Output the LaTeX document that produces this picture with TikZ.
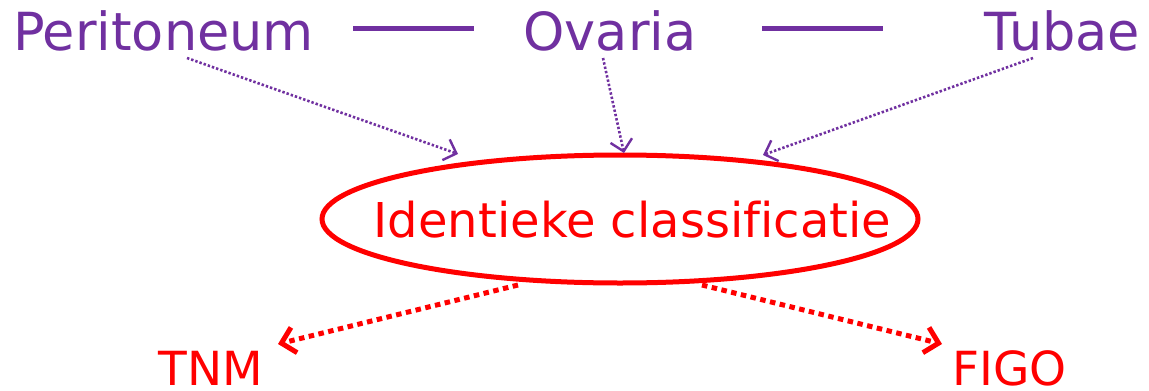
\documentclass[tikz,border=0pt]{standalone}
\usepackage{fontspec}
\setmainfont{DejaVu Sans}[Ligatures=NoCommon]
\usetikzlibrary{shapes.geometric,arrows.meta}
\definecolor{vio}{HTML}{7030A0}
\definecolor{rd}{HTML}{FF0000}
\begin{document}
\begin{tikzpicture}[x=1pt,y=-1pt,
  toplbl/.style={text=vio, inner sep=0pt, anchor=base, font=\fontsize{52.5}{62}\selectfont},
  botlbl/.style={text=rd, inner sep=0pt, anchor=base, text depth=0pt, font=\fontsize{47}{56}\selectfont},
  link/.style={draw=vio, line width=5pt},
  feed/.style={draw=vio, line width=2.6pt, dash pattern=on 2.4pt off 2pt,
    -{Straight Barb[length=11pt,width=22pt,line width=2.4pt]}},
  spread/.style={draw=rd, line width=5pt, dash pattern=on 5.5pt off 4.5pt,
    -{Straight Barb[length=13pt,width=26pt,line width=5pt]}}
]
\useasboundingbox (0,0) rectangle (1149,391);

% organ labels
\node[toplbl] (peri) at (163.5,50) {Peritoneum};
\node[toplbl] (ova)  at (610,50)   {Ovaria};
\node[toplbl] (tub)  at (1062.5,50) {Tubae};

% linking bars between the organs
\coordinate (b1s) at (353,28);
\coordinate (b1e) at (474,28);
\coordinate (b2s) at (762,28);
\coordinate (b2e) at (883,28);
\draw[link] (b1s) -- (b1e);
\draw[link] (b2s) -- (b2e);

% shared classification
\node[draw=rd, line width=5pt, ellipse, minimum width=596pt, minimum height=128pt,
      inner sep=0pt] (cls) at (620,219) {};
\node[inner sep=0pt, anchor=base, text=rd, font=\fontsize{48}{57}\selectfont]
      (clslbl) at (632.5,237) {Identieke classificatie};

% staging systems
\node[botlbl] (tnm)  at (210.5,385) {TNM};
\node[botlbl] (figo) at (1009.5,385) {FIGO};

% converging arrows
\coordinate (f1s) at (187,58);
\coordinate (f1e) at (458,154);
\coordinate (f2s) at (603,58);
\coordinate (f2e) at (624,153);
\coordinate (f3s) at (1033,58);
\coordinate (f3e) at (763,155);
\draw[feed] (f1s) -- (f1e);
\draw[feed] (f2s) -- (f2e);
\draw[feed] (f3s) -- (f3e);

% diverging arrows
\coordinate (s1s) at (518,285);
\coordinate (s1e) at (278,344);
\coordinate (s2s) at (702,285);
\coordinate (s2e) at (942,344);
\draw[spread] (s1s) -- (s1e);
\draw[spread] (s2s) -- (s2e);
\end{tikzpicture}
\end{document}
